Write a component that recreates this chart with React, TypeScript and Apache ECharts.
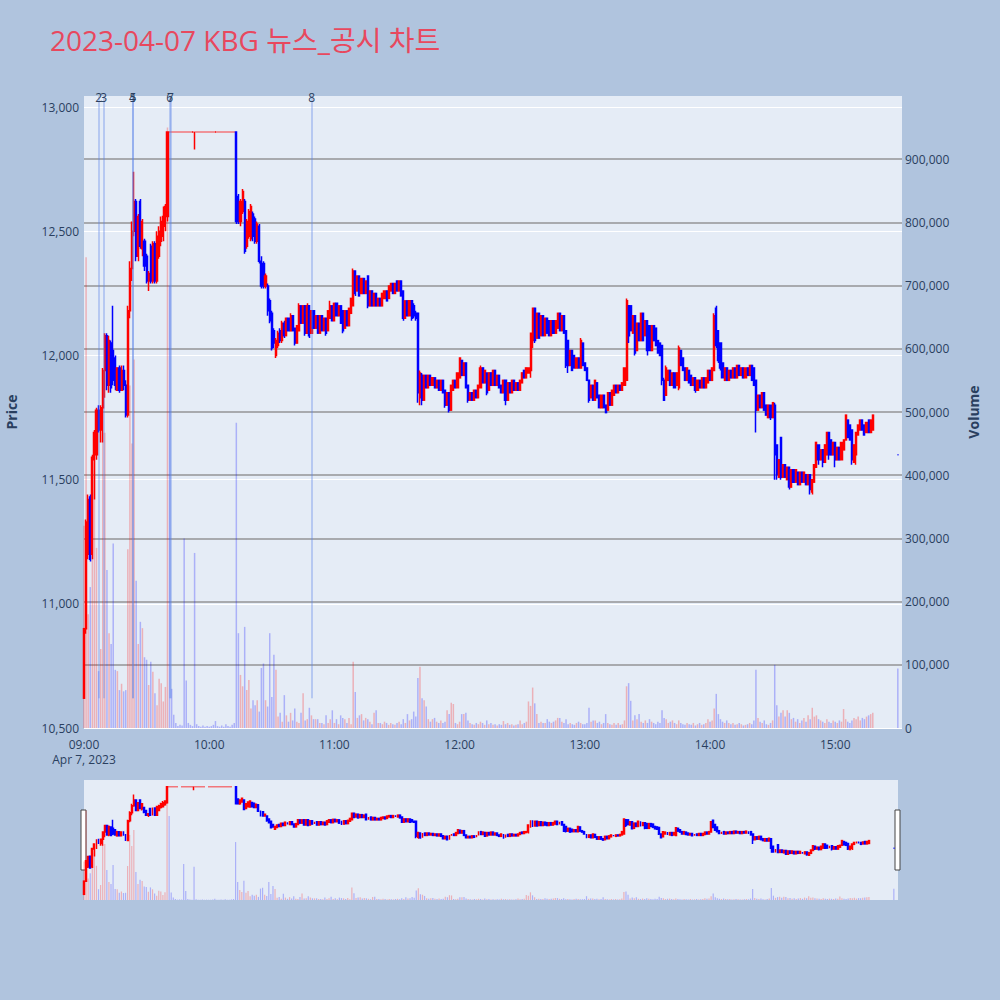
import React, { useEffect, useRef } from 'react';
import * as echarts from 'echarts';

const TITLE = '2023-04-07 KBG 뉴스_공시 차트';
const DATE_LABEL = 'Apr 7, 2023';
const SESSION_START_MIN = 9 * 60; // minutes after midnight for index 0
const X_MAX_MIN = 392;

// [open, close, low?, high?] per minute starting at 09:00
const CANDLES: number[][] = [
  [10620,10900,10620,10900],[10900,11330,10880,11340],[11200,11420,11180,11440],[11430,11180,11170,11440],[11200,11590,11180,11600],
  [11580,11690,11420,11700],[11600,11780,11580,11790],[11780,11700,11690,11800],[11700,11790,11650,11800],[11790,11940,11650,11950],
  [11940,12080,11830,12090],[12080,11880,11860,12090],[11880,12060,11850,12080],[12050,11870,11850,12060],[12020,11900,11880,12200],
  [11990,11880,11860,12000],[11860,11950],[11950,11860,11850,11960],[11860,11940,11860,11960],[11940,11880,11860,11960],
  [11880,11760,11750,11900],[11760,12180,11750,12200],[12180,12350,12150,12380],[12350,12500,12300,12540],[12500,12620,12480,12740],
  [12620,12400,12380,12630],[12400,12560,12380,12570],[12620,12440,12430,12630],[12430,12540,12400,12550],[12460,12360,12340,12470],
  [12400,12300,12290,12410],[12300,12330,12260,12340],[12440,12300,12290,12450],[12300,12450,12290,12460],[12450,12300,12290,12460],
  [12300,12480,12290,12500],[12400,12500,12390,12520],[12460,12540,12440,12560],[12480,12560,12460,12600],[12520,12600,12500,12610],
  [12560,12900,12540,12900],
  [12900,12900],[12900,12900],[12900,12900],[12900,12900],[12900,12900],[12900,12900],[12900,12900],[12900,12900],
  [12900,12900],[12900,12900],[12900,12900],[12900,12900],[12900,12900,12830,12900],[12900,12900],[12900,12900],[12900,12900],
  [12900,12900],[12900,12900],[12900,12900],[12900,12900],[12900,12900],[12900,12900],[12900,12900],[12900,12900],
  [12900,12900],[12900,12900],[12900,12900],[12900,12900],[12900,12900],[12900,12900],[12900,12900],[12900,12900],
  [12900,12540,12530,12900],[12640,12540,12530,12650],[12540,12620,12520,12630],[12580,12660,12570,12670],[12620,12420,12410,12630],
  [12440,12540,12430,12550],[12480,12580,12470,12590],[12470,12600,12460,12610],[12570,12480,12460,12580],[12550,12460,12450,12560],
  [12460,12530,12450,12540],[12520,12380,12370,12530],[12380,12280,12270,12400],[12370,12280,12270,12380],[12280,12320,12270,12330],
  [12280,12180,12160,12290],[12220,12140,12130,12230],[12170,12030,12020,12180],[12100,12050,12030,12110],[12000,12060,11990,12070],
  [12040,12090,12030,12100],[12100,12060,12050,12110],[12060,12130,12050,12140],[12130,12080,12070,12140],[12080,12150],
  [12150,12100],[12100,12160,12100,12170],[12160,12100],[12110,12050,12040,12110],[12050,12120],
  [12100,12200,12100,12210],[12200,12130],[12130,12200],[12200,12090,12080,12200],[12090,12200,12090,12210],
  [12200,12080,12070,12200],[12090,12180],[12180,12110],[12110,12160],[12160,12090],
  [12090,12160],[12160,12100],[12100,12150],[12150,12090,12080,12150],[12100,12180],
  [12150,12200,12150,12220],[12200,12140],[12140,12210],[12210,12160],[12160,12200],
  [12200,12130],[12180,12100,12090,12180],[12110,12180],[12180,12120],[12120,12190],
  [12170,12230],[12200,12340,12200,12350],[12340,12250,12240,12340],[12260,12320],[12320,12240],
  [12250,12310],[12310,12250],[12250,12300],[12320,12200,12190,12320],[12200,12260],
  [12260,12200],[12200,12250],[12250,12200],[12200,12230],[12230,12200],
  [12200,12250],[12230,12260],[12260,12220],[12230,12280],[12260,12290],
  [12290,12250],[12250,12290],[12300,12260],[12260,12300],[12300,12240],
  [12260,12150,12140,12260],[12150,12220],[12220,12160],[12160,12220],[12220,12150,12140,12220],
  [12200,12160,12150,12210],[12170,12150,12140,12180],[12170,11850,11810,12170],
  [11830,11930,11800,11940],[11920,11820,11800,11930],[11820,11920],[11920,11870],[11870,11920],
  [11920,11880],[11880,11910],[11910,11870],[11870,11900],[11900,11860],
  [11860,11900],[11900,11850],[11860,11800,11790,11860],[11800,11850],[11850,11780,11770,11850],
  [11780,11880],[11860,11900],[11900,11870],[11870,11930],[11910,11990],
  [11980,11920],[11920,11970],[11970,11870],[11880,11820,11810,11880],[11820,11850],
  [11850,11820],[11820,11860],[11860,11830],[11830,11880],[11870,11950,11870,11960],
  [11950,11890],[11890,11940],[11930,11850,11840,11930],[11860,11930],[11930,11880],
  [11880,11940],[11940,11880],[11880,11920],[11920,11870],[11880,11850],
  [11850,11900],[11900,11820,11800,11900],[11820,11890],[11890,11850],[11850,11900],
  [11900,11860],[11860,11890],[11890,11860],[11860,11900],[11890,11930],
  [11940,11910],[11910,11950],[11930,11950],[11940,12090,11910,12090],[12060,12190,12030,12190],
  [12190,12060,12050,12190],[12070,12170],[12170,12070],[12080,12160],[12160,12080],
  [12080,12150],[12150,12090],[12140,12080],[12080,12140],[12140,12090],
  [12090,12140],[12110,12170],[12170,12100],[12100,12160],[12160,12090],
  [12100,11960,11950,12100],[12060,11960,11930,12060],[11960,12020],[12020,11940],[12000,11950],
  [11950,11990],[11990,11950],[11950,12060,11950,12070],[12050,11960],[11970,11940],
  [11950,11900],[11900,11820,11810,11900],[11830,11880],[11880,11820],[11820,11900],
  [11890,11830],[11840,11790],[11790,11840],[11840,11790],[11800,11770],
  [11780,11850],[11850,11800],[11800,11860],[11840,11880],[11880,11850],
  [11850,11880],[11880,11860],[11860,11890],[11880,11950],[11900,12220,11900,12230],
  [12200,12080,12050,12200],[12200,12100],[12090,12160],[12160,12010,12000,12160],[12020,12130],
  [12130,12060],[12060,12170],[12170,12060],[12080,12140],[12140,12020,12000,12140],
  [12120,12020],[12020,12120],[12120,12060],[12110,12040],[12060,12010],
  [12050,12000],[12040,11900,11880,12040],[11900,11820,11820,11910],[11840,11950,11840,11960],[11900,11940],
  [11940,11880],[11880,11930],[11930,11870],[11880,11930],[11870,12030,11860,12040],
  [12020,11960],[11990,11940],[11950,11900],[11900,11950],[11940,11890],
  [11920,11880],[11880,11910],[11910,11860,11850,11910],[11860,11900],[11900,11870],
  [11870,11910],[11910,11870],[11870,11910],[11890,11940],[11940,11900],
  [11900,11950],[11940,12160,11940,12170],[12190,12040,12030,12200],[12100,11980,11970,12100],[12050,11950,11940,12050],
  [11970,11910],[11900,11950],[11950,11900],[11900,11940],[11940,11910],
  [11910,11950],[11950,11910],[11910,11960],[11960,11920],[11920,11950],
  [11950,11910],[11910,11950],[11950,11920],[11920,11960],[11960,11900],
  [11950,11880],[11900,11780,11690,11900],[11780,11840],[11840,11790],[11790,11850],
  [11850,11780],[11800,11760],[11750,11800],[11800,11750,11740,11800],[11750,11810],
  [11800,11600,11500,11810],[11640,11520,11500,11640],[11510,11580],[11670,11510,11500,11670],[11510,11560],
  [11560,11510],[11500,11550],[11550,11470,11460,11550],[11470,11540],[11540,11490],
  [11490,11540],[11530,11480],[11480,11530],[11530,11490],[11490,11530],
  [11520,11480],[11480,11520],[11520,11460,11440,11520],[11450,11500,11440,11500],[11490,11560],
  [11550,11650],[11640,11580,11560,11640],[11580,11620],[11620,11570,11550,11620],[11570,11640],
  [11600,11690],[11690,11600,11580,11690],[11660,11600],[11600,11650],[11650,11580,11550,11650],
  [11580,11630],[11630,11580],[11580,11650],[11620,11660],[11660,11760],
  [11740,11670],[11720,11660],[11700,11580,11560,11700],[11570,11640],[11600,11690,11560,11690],
  [11680,11720],[11700,11740],[11740,11700],[11720,11680],[11690,11730],
  [11740,11690],[11690,11740],[11700,11760],
];

const VOLUMES: number[] = [
  320000,745000,180000,223000,420000,440000,285000,90000,125000,467000,
  467000,250000,150000,133000,292000,92000,90000,60000,70000,58000,
  60000,283000,542000,450000,583000,233000,133000,168000,158000,112000,
  108000,68000,105000,89000,55000,36000,78000,71000,42000,65000,
  950000,700000,62000,21000,8000,3000,5000,4000,300000,75000,
  8000,5000,3000,277000,6000,3000,2000,4000,2000,3000,
  2000,3000,5000,11000,3000,2000,4000,2000,6000,3000,
  2000,5000,8000,483000,150000,84000,66000,160000,60000,76000,
  31000,44000,36000,44000,26000,95000,102000,44000,34000,150000,
  49000,116000,92000,18000,24000,10000,52000,20000,10000,24000,
  12000,31000,10000,8000,24000,55000,12000,14000,32000,20000,
  14000,14000,14000,8000,8000,6000,20000,8000,14000,28000,
  8000,14000,6000,20000,16000,14000,8000,16000,6000,105000,
  57000,16000,20000,22000,12000,16000,14000,10000,6000,24000,
  28000,8000,8000,6000,10000,8000,5000,8000,6000,5000,
  8000,10000,6000,14000,8000,22000,12000,14000,26000,18000,
  79000,97000,47000,44000,34000,14000,10000,14000,16000,10000,
  8000,12000,8000,10000,28000,22000,40000,38000,8000,6000,
  10000,22000,22000,24000,12000,8000,6000,5000,8000,6000,
  10000,8000,5000,12000,6000,8000,5000,6000,4000,6000,
  5000,11000,6000,8000,5000,6000,4000,5000,6000,12000,
  6000,8000,10000,42000,35000,64000,39000,22000,8000,10000,
  8000,8000,14000,10000,8000,10000,12000,16000,16000,10000,
  8000,14000,6000,8000,6000,5000,8000,10000,8000,6000,
  6000,8000,32000,10000,12000,12000,8000,10000,6000,8000,
  22000,8000,6000,5000,8000,5000,8000,5000,6000,12000,
  66000,71000,43000,12000,20000,14000,22000,10000,8000,12000,
  8000,14000,10000,8000,6000,10000,8000,28000,16000,14000,
  8000,10000,12000,8000,6000,12000,8000,6000,5000,8000,
  6000,5000,8000,4000,6000,8000,5000,6000,8000,14000,
  10000,12000,31000,54000,22000,14000,10000,8000,12000,8000,
  6000,8000,5000,6000,8000,6000,4000,5000,6000,8000,
  6000,12000,92000,16000,10000,8000,12000,6000,5000,8000,
  12000,100000,36000,18000,24000,28000,18000,28000,24000,14000,
  16000,10000,14000,8000,12000,16000,10000,20000,14000,32000,
  18000,20000,14000,12000,10000,8000,14000,10000,8000,12000,
  10000,8000,12000,10000,30000,14000,10000,8000,12000,16000,
  14000,18000,12000,16000,14000,18000,20000,22000,24000,
];

// closing auction (15:30)
const CLOSING_MINUTE = 390;
const CLOSING_PRICE = 11600;
const CLOSING_VOLUME = 94000;

// news / disclosure markers (minutes after 09:00)
const NEWS_MINUTES = [7.0, 9.4, 23.2, 23.5, 41.1, 41.4, 109.1];
const NEWS_LABELS = ['2', '3', '4', '5', '6', '7', '8'];
const NEWS_LINE_LOW = 10620;
const NEWS_LINE_HIGH = 13044;

const PRICE_MIN = 10500;
const PRICE_MAX = 13045;
const PRICE_STEP = 500;
const VOL_MAX = 1000000;
const VOL_STEP = 100000;

const UP = '#ff0000';
const DOWN = '#0000ff';
const UP_VOL = 'rgba(255,0,0,0.25)';
const DOWN_VOL = 'rgba(0,0,255,0.25)';
const FONT = '"Open Sans", "Noto Sans CJK KR", sans-serif';
const TEXT = '#2a3f5f';

function fmtTime(v: number): string {
  const t = SESSION_START_MIN + Math.round(v);
  const h = Math.floor(t / 60);
  const m = t % 60;
  return String(h).padStart(2, '0') + ':' + String(m).padStart(2, '0');
}

export default function App() {
  const ref = useRef<HTMLDivElement>(null);
  useEffect(() => {
    if (!ref.current) return;
    const chart = echarts.init(ref.current, undefined, { renderer: 'svg' });

    const candleData: number[][] = CANDLES.map((c, i) => {
      const o = c[0];
      const cl = c[1];
      const l = c.length > 2 ? c[2] : Math.min(o, cl);
      const h = c.length > 3 ? c[3] : Math.max(o, cl);
      return [i, o, cl, l, h];
    });
    candleData.push([CLOSING_MINUTE, CLOSING_PRICE, CLOSING_PRICE, CLOSING_PRICE, CLOSING_PRICE]);

    const volData: any[] = VOLUMES.map((v, i) => ({
      value: [i, v],
      itemStyle: { color: CANDLES[i][1] > CANDLES[i][0] ? UP_VOL : DOWN_VOL },
    }));
    volData.push({ value: [CLOSING_MINUTE, CLOSING_VOLUME], itemStyle: { color: DOWN_VOL } });

    const newsLines = NEWS_MINUTES.map((t, i) => [
      { coord: [t, NEWS_LINE_LOW] },
      { coord: [t, NEWS_LINE_HIGH], label: { formatter: NEWS_LABELS[i] } },
    ]);

    const candleStyle = {
      color: UP,
      color0: DOWN,
      borderColor: UP,
      borderColor0: DOWN,
      borderWidth: 1.5,
    };

    chart.setOption({
      animation: false,
      backgroundColor: '#B0C4DE',
      textStyle: { fontFamily: FONT },
      title: {
        text: TITLE,
        left: 45,
        top: 21,
        textStyle: { color: '#E8485E', fontSize: 28, fontWeight: 'normal', fontFamily: FONT },
      },
      grid: [
        { left: 84, top: 96, width: 818, height: 632, show: true, backgroundColor: '#E5ECF6', borderWidth: 0, containLabel: false, outerBoundsMode: 'none' },
        { left: 84, top: 780, width: 814, height: 120, show: true, backgroundColor: '#E5ECF6', borderWidth: 0, containLabel: false, outerBoundsMode: 'none' },
      ],
      xAxis: [
        {
          type: 'value', gridIndex: 0, min: 0, max: X_MAX_MIN, interval: 60,
          axisLine: { show: false }, axisTick: { show: false }, splitLine: { show: false },
          axisLabel: {
            color: TEXT, fontSize: 12, margin: 9, lineHeight: 15, fontFamily: FONT,
            showMaxLabel: false,
            formatter: (v: number) => (v === 0 ? fmtTime(v) + '\n' + DATE_LABEL : fmtTime(v)),
          },
        },
        { type: 'value', gridIndex: 1, min: 0, max: X_MAX_MIN, show: false },
      ],
      yAxis: [
        {
          type: 'value', gridIndex: 0, position: 'left', min: PRICE_MIN, max: PRICE_MAX, interval: PRICE_STEP,
          axisLine: { show: false }, axisTick: { show: false },
          splitLine: { show: true, showMaxLine: false, lineStyle: { color: '#ffffff', width: 1.2 } },
          axisLabel: {
            color: TEXT, fontSize: 12, margin: 5, fontFamily: FONT, showMaxLabel: false,
            formatter: (v: number) => v.toLocaleString('en-US'),
          },
          name: 'Price', nameLocation: 'middle', nameRotate: 90, nameGap: 66,
          nameTextStyle: { color: TEXT, fontSize: 14, fontWeight: 'bold', fontFamily: FONT },
        },
        {
          type: 'value', gridIndex: 0, position: 'right', min: 0, max: VOL_MAX, interval: VOL_STEP,
          axisLine: { show: false }, axisTick: { show: false },
          splitLine: { show: true, showMaxLine: false, showMinLine: false, lineStyle: { color: 'rgba(128,128,128,0.8)', width: 1.5 } },
          axisLabel: {
            color: TEXT, fontSize: 12, margin: 3, fontFamily: FONT, showMaxLabel: false,
            formatter: (v: number) => v.toLocaleString('en-US'),
          },
          name: 'Volume', nameLocation: 'middle', nameRotate: 90, nameGap: 64,
          nameTextStyle: { color: TEXT, fontSize: 14, fontWeight: 'bold', fontFamily: FONT },
        },
        { type: 'value', gridIndex: 1, min: PRICE_MIN, max: PRICE_MAX, show: false },
        { type: 'value', gridIndex: 1, min: 0, max: VOL_MAX, show: false },
      ],
      series: [
        {
          type: 'bar', xAxisIndex: 0, yAxisIndex: 1, data: volData, barWidth: 1.5, z: 1,
        },
        {
          type: 'candlestick', xAxisIndex: 0, yAxisIndex: 0, data: candleData, barWidth: 1.6, z: 2,
          itemStyle: candleStyle,
          markLine: {
            silent: true,
            symbol: ['none', 'none'],
            lineStyle: { color: 'rgba(90,130,230,0.45)', width: 1.5, type: 'solid' },
            label: { show: true, position: 'end', distance: -7, color: TEXT, fontSize: 12, fontFamily: FONT },
            data: newsLines,
          },
        },
        {
          type: 'bar', xAxisIndex: 1, yAxisIndex: 3, data: volData, barWidth: 1.2, z: 1,
        },
        {
          type: 'candlestick', xAxisIndex: 1, yAxisIndex: 2, data: candleData, barWidth: 1.4, z: 2,
          itemStyle: candleStyle,
        },
      ],
      graphic: [
        { type: 'rect', shape: { x: 81, y: 810, width: 5, height: 60 }, style: { fill: '#ffffff', stroke: '#444444', lineWidth: 1 } },
        { type: 'rect', shape: { x: 895, y: 810, width: 5, height: 60 }, style: { fill: '#ffffff', stroke: '#444444', lineWidth: 1 } },
      ],
    });

    return () => chart.dispose();
  }, []);

  return <div ref={ref} style={{ position: 'absolute', left: 0, top: 0, width: 1000, height: 1000 }} />;
}
